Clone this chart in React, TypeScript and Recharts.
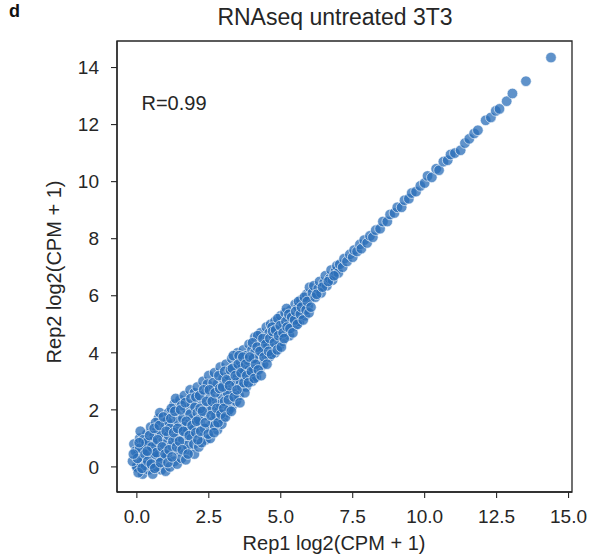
import React from "react";
import { ScatterChart, Scatter, XAxis, YAxis, ReferenceArea } from "recharts";

const xTicks = [0, 2.5, 5, 7.5, 10, 12.5, 15];
const yTicks = [0, 2, 4, 6, 8, 10, 12, 14];

// genes with no reads in either replicate
const zeroGenes: [number, number][] = [
	[0, 0], [0, 0], [0, 0], [0, 0],
];

// low expression: wide cloud
const lowCloud: [number, number][] = [
	[-0.15, 0.2], [0.05, 0.45], [-0.1, 0.8], [0.1, 1.0], [0.2, -0.25], [0.25, 0.3], [0.3, 0.7],
	[0.15, 0.15], [0.4, -0.1], [0.35, 1.15], [0.45, 0.5], [0.05, -0.2], [0.2, 0.6], [-0.05, 0.55],
	[0.4, 0.9], [0.3, 0.05], [0.12, 1.25], [0.48, 1.4], [0.22, 0.95],
	[0.55, -0.25], [0.6, 0.2], [0.65, 0.75], [0.7, 1.3], [0.75, 1.7], [0.8, 0.5], [0.85, -0.1],
	[0.9, 1.0], [0.95, 1.55], [0.6, 1.1], [0.7, 0.0], [0.8, 1.9], [0.9, 0.3], [0.55, 0.9],
	[0.65, 1.55], [0.75, 0.35], [0.85, 1.2], [0.95, 0.8], [1.0, -0.15], [0.58, 0.45],
	[1.05, 0.4], [1.1, 1.1], [1.1, 1.9], [1.15, 0.0], [1.2, 0.75], [1.25, 1.5], [1.3, 2.2],
	[1.3, 0.2], [1.35, 1.0], [1.4, 1.8], [1.45, 0.55], [1.5, 1.3], [1.5, 2.35], [1.05, 1.6],
	[1.2, 2.05], [1.4, 0.1], [1.25, 0.9], [1.45, 1.6], [1.15, 1.35], [1.35, 2.4],
	[1.55, 0.3], [1.6, 0.95], [1.6, 1.7], [1.65, 2.5], [1.7, 1.2], [1.75, 2.0], [1.8, 0.6],
	[1.8, 1.5], [1.85, 2.7], [1.9, 1.0], [1.9, 2.2], [1.95, 1.7], [2.0, 0.45], [2.0, 2.6],
	[1.7, 0.25], [1.55, 2.15], [1.65, 1.4], [1.85, 1.85], [1.95, 1.3], [1.75, 0.75],
	[0.02, 0.3], [0.1, 0.65], [0.18, -0.05], [0.28, 0.45], [0.32, 0.85], [0.38, 0.2], [0.44, 1.1],
	[0.5, 0.1], [0.52, 0.7], [0.6, 1.35], [0.62, -0.05], [0.68, 0.5], [0.72, 0.95], [0.78, 1.45],
	[0.82, 0.15], [0.88, 0.7], [0.92, 1.75], [0.98, 0.45], [1.02, 1.25], [1.08, 0.15], [1.12, 0.6],
	[1.18, 1.7], [1.22, 0.35], [1.28, 1.2], [1.32, 1.95], [1.38, 0.7], [1.42, 1.35], [1.48, 0.9],
	[1.52, 2.0], [1.58, 0.6], [1.62, 1.25], [1.68, 2.25], [1.72, 1.6], [1.78, 0.45], [1.82, 1.1],
	[1.88, 2.4], [1.92, 1.45], [1.98, 0.8], [2.02, 2.1], [0.08, 0.85], [-0.12, 0.45], [0.36, 0.55],
];

// mid expression: cloud narrowing towards the diagonal
const midCloud: [number, number][] = [
	[2.05, 1.2], [2.1, 1.9], [2.1, 2.8], [2.15, 0.7], [2.2, 1.55], [2.25, 2.35], [2.3, 1.05],
	[2.3, 3.0], [2.35, 1.8], [2.4, 2.6], [2.4, 0.95], [2.45, 2.1], [2.5, 1.4], [2.5, 3.2],
	[2.2, 2.05], [2.35, 1.35], [2.45, 2.9], [2.05, 2.45], [2.25, 0.85], [2.15, 1.65],
	[2.55, 1.0], [2.6, 2.0], [2.6, 2.7], [2.65, 1.6], [2.7, 3.3], [2.75, 2.35], [2.8, 1.3],
	[2.8, 2.9], [2.85, 1.95], [2.9, 3.5], [2.95, 2.5], [3.0, 1.7], [3.0, 3.1], [2.65, 2.95],
	[2.75, 1.8], [2.9, 2.2], [2.55, 2.45], [2.95, 1.5], [2.7, 1.45], [2.85, 3.2],
	[3.05, 2.3], [3.1, 2.8], [3.1, 3.6], [3.15, 1.9], [3.2, 3.2], [3.25, 2.55], [3.3, 3.8],
	[3.3, 2.1], [3.35, 3.0], [3.4, 2.65], [3.4, 3.5], [3.45, 2.3], [3.5, 3.2], [3.5, 4.0],
	[3.2, 2.0], [3.35, 3.9], [3.05, 3.35], [3.45, 2.95], [3.15, 2.6], [3.25, 3.4],
	[3.55, 2.5], [3.6, 3.0], [3.6, 3.7], [3.65, 2.8], [3.7, 4.1], [3.75, 3.35], [3.8, 2.8],
	[3.8, 3.9], [3.85, 3.1], [3.9, 4.3], [3.95, 3.6], [4.0, 3.0], [4.0, 4.1], [3.65, 3.45],
	[3.75, 2.6], [3.9, 3.4], [3.55, 3.9], [3.85, 3.75],
	[4.05, 3.4], [4.1, 4.0], [4.1, 4.55], [4.15, 3.15], [4.2, 3.75], [4.25, 4.3], [4.3, 3.5],
	[4.3, 4.7], [4.35, 4.0], [4.4, 3.6], [4.45, 4.45], [4.5, 3.9], [4.5, 4.9], [4.2, 4.6],
	[4.4, 4.15], [4.05, 3.8],
	[4.55, 4.3], [4.6, 3.85], [4.6, 4.7], [4.65, 5.0], [4.7, 4.2], [4.75, 4.6], [4.8, 4.0],
	[4.8, 5.1], [4.85, 4.5], [4.9, 4.8], [4.95, 4.25], [5.0, 4.65], [5.0, 5.3], [4.7, 4.9],
	[4.9, 5.2],
	[5.05, 4.4], [5.1, 5.0], [5.15, 5.4], [5.2, 4.75], [5.25, 5.2], [5.3, 4.6], [5.35, 5.5],
	[5.4, 5.0], [5.45, 5.3], [5.5, 4.95], [5.5, 5.7], [5.2, 5.55], [5.3, 5.05],
	[5.55, 5.3], [5.6, 5.6], [5.65, 5.1], [5.7, 5.85], [5.75, 5.45], [5.8, 5.7], [5.85, 5.3],
	[5.9, 6.05], [5.95, 5.65], [6.0, 5.9], [6.0, 6.3],
	[2.08, 1.6], [2.12, 0.95], [2.18, 2.5], [2.22, 1.25], [2.28, 1.95], [2.32, 2.7], [2.38, 1.55],
	[2.42, 2.3], [2.48, 1.15], [2.52, 2.7], [2.58, 1.8], [2.62, 2.3], [2.68, 1.2], [2.72, 2.6],
	[2.78, 2.05], [2.82, 1.55], [2.88, 2.75], [2.92, 1.85], [2.98, 2.8], [3.02, 2.05], [3.08, 1.75],
	[3.12, 3.05], [3.18, 2.35], [3.22, 2.85], [3.28, 1.95], [3.32, 3.45], [3.38, 2.45], [3.42, 3.2],
	[3.48, 2.7], [3.52, 3.6], [3.58, 2.25], [3.62, 3.3], [3.68, 3.85], [3.72, 2.95], [3.78, 3.6],
	[3.82, 3.2], [3.88, 2.95], [3.92, 3.85], [3.98, 3.35], [4.02, 4.35], [4.08, 3.1], [4.12, 3.6],
	[4.18, 4.2], [4.22, 3.4], [4.28, 4.05], [4.32, 3.2], [4.38, 4.5], [4.42, 3.85], [4.48, 4.3],
	[4.52, 3.6], [4.58, 4.05], [4.62, 4.5], [4.68, 3.95], [4.72, 4.75], [4.78, 4.35], [4.82, 4.8],
	[4.88, 4.1], [4.92, 4.6], [4.98, 4.95], [5.02, 4.2], [5.08, 4.7], [5.12, 4.5], [5.18, 5.1],
	[5.22, 4.9], [5.28, 5.35], [5.32, 4.85], [5.38, 5.25], [5.42, 4.7], [5.48, 5.15], [5.52, 5.45],
	[5.58, 5.0], [5.62, 5.8], [5.68, 5.35], [5.72, 5.6], [5.78, 5.15], [5.82, 5.95], [5.88, 5.5],
	[5.92, 5.8], [5.98, 5.4],
];

// high expression: tight along the diagonal
const highLine: [number, number][] = [
	[6.05, 5.6], [6.1, 6.1], [6.15, 6.35], [6.2, 5.95], [6.3, 6.25], [6.35, 6.5], [6.4, 6.1],
	[6.5, 6.45], [6.55, 6.7], [6.6, 6.35], [6.7, 6.6], [6.75, 6.9], [6.8, 6.55], [6.9, 6.85],
	[6.95, 7.05], [7.0, 6.8], [6.25, 6.05], [6.45, 6.3], [6.65, 6.5], [6.85, 6.7],
	[7.05, 7.1], [7.15, 7.0], [7.2, 7.3], [7.3, 7.2], [7.4, 7.45], [7.5, 7.35], [7.55, 7.6],
	[7.65, 7.55], [7.75, 7.8], [7.8, 7.65], [7.9, 7.95], [8.0, 7.85],
	[8.1, 8.1], [8.2, 8.05], [8.3, 8.3], [8.45, 8.35], [8.55, 8.6], [8.7, 8.6], [8.8, 8.85],
	[8.95, 8.9], [9.05, 9.1], [9.2, 9.1], [9.3, 9.35], [9.45, 9.4], [9.55, 9.6], [9.7, 9.65],
	[9.85, 9.85], [10.0, 9.95],
	[10.1, 10.2], [10.25, 10.15], [10.4, 10.45], [10.5, 10.4], [10.65, 10.7], [10.8, 10.75],
	[10.9, 10.95], [11.05, 11.0], [11.25, 11.1], [11.4, 11.35], [11.55, 11.5], [11.72, 11.69],
	[11.85, 11.8], [12.12, 12.15], [12.3, 12.25], [12.47, 12.48], [12.6, 12.55], [12.85, 12.82],
	[13.05, 13.09], [13.52, 13.52], [14.39, 14.35],
];

const data = [...zeroGenes, ...lowCloud, ...midCloud, ...highLine].map(([x, y]) => ({ x, y }));

const font = '"Liberation Sans", Arial, sans-serif';
const ink = "#262626";

const Dot = (props: any) => (
	<circle
		cx={props.cx}
		cy={props.cy}
		r={5.3}
		fill="#2a6db8"
		fillOpacity={0.75}
		stroke="#ffffff"
		strokeWidth={0.6}
	/>
);

export default function App() {
	return (
		<div style={{ position: "absolute", left: 0, top: 0, width: 589, height: 555, background: "#fff" }}>
			<ScatterChart width={589} height={555} margin={{ top: 41, right: 17, bottom: 0, left: 0 }}>
				<XAxis
					type="number"
					dataKey="x"
					domain={[-0.69, 15.12]}
					ticks={xTicks}
					tickFormatter={(v: number) => v.toFixed(1)}
					allowDataOverflow
					height={63}
					tickSize={6}
					tickMargin={12}
					axisLine={{ stroke: ink, strokeWidth: 1.3 }}
					tickLine={{ stroke: ink, strokeWidth: 1.1 }}
					tick={{ fill: ink, fontSize: 19, fontFamily: font }}
				/>
				<YAxis
					type="number"
					dataKey="y"
					domain={[-0.88, 14.93]}
					ticks={yTicks}
					allowDataOverflow
					width={117}
					tickSize={6}
					tickMargin={12}
					axisLine={{ stroke: ink, strokeWidth: 1.3 }}
					tickLine={{ stroke: ink, strokeWidth: 1.1 }}
					tick={{ fill: ink, fontSize: 19, fontFamily: font }}
				/>
				<ReferenceArea
					x1={-0.69}
					x2={15.12}
					y1={-0.88}
					y2={14.93}
					fill="none"
					stroke={ink}
					strokeWidth={1.3}
					ifOverflow="visible"
				/>
				<Scatter data={data} shape={Dot} isAnimationActive={false} />
			</ScatterChart>
			<svg
				width={589}
				height={555}
				style={{ position: "absolute", left: 0, top: 0, pointerEvents: "none" }}
				fontFamily={font}
				fill={ink}
			>
				<text x={9} y={17} fontSize={18} fontWeight="bold" fill="#111">d</text>
				<text x={335} y={25} fontSize={23} textAnchor="middle">RNAseq untreated 3T3</text>
				<text x={141.5} y={110} fontSize={20}>R=0.99</text>
				<text x={334} y={550} fontSize={20} textAnchor="middle">Rep1 log2(CPM + 1)</text>
				<text transform="translate(61,272) rotate(-90)" fontSize={20} textAnchor="middle">
					Rep2 log2(CPM + 1)
				</text>
			</svg>
		</div>
	);
}
